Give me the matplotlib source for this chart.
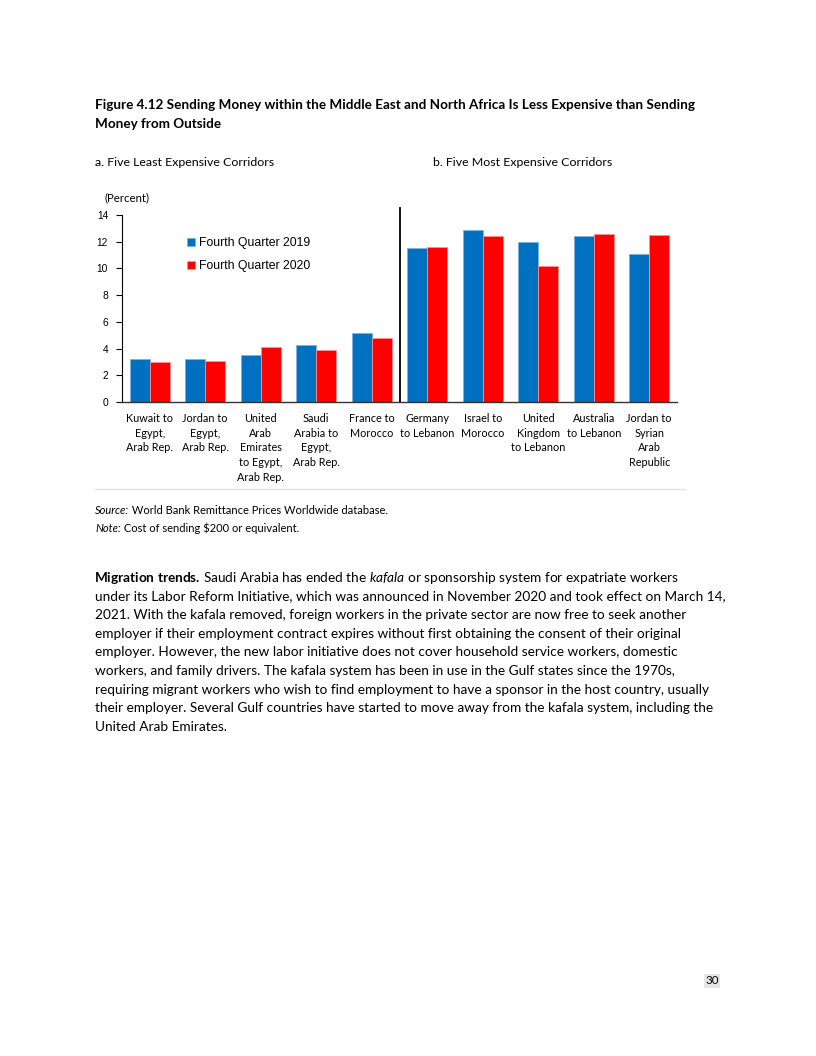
import matplotlib
matplotlib.use("Agg")
import matplotlib.pyplot as plt
import numpy as np

# data
corridors = ["Kuwait to\nEgypt,\nArab Rep.", "Jordan to\nEgypt,\nArab Rep.",
             "United\nArab\nEmirates\nto Egypt,\nArab Rep.", "Saudi\nArabia to\nEgypt,\nArab Rep.",
             "France to\nMorocco", "Germany\nto Lebanon", "Israel to\nMorocco",
             "United\nKingdom\nto Lebanon", "Australia\nto Lebanon", "Jordan to\nSyrian\nArab\nRepublic"]
q4_2019 = [3.2, 3.2, 3.5, 4.3, 5.2, 11.5, 12.9, 12.0, 12.4, 11.1]
q4_2020 = [3.0, 3.1, 4.1, 3.9, 4.8, 11.6, 12.4, 10.2, 12.6, 12.5]
yticks = [0, 2, 4, 6, 8, 10, 12, 14]

W, H = 816, 1056
BLUE = "#0070C0"
RED = "#FF0000"
BODY = "Lato"
TICKF = "Liberation Sans"

plt.rcParams["mathtext.fontset"] = "custom"
plt.rcParams["mathtext.rm"] = "Lato"
plt.rcParams["mathtext.it"] = "Lato:italic"
plt.rcParams["mathtext.bf"] = "Lato:bold"

fig = plt.figure(figsize=(W / 100, H / 100), dpi=100)

def fx(x):
    return x / W

def fy(y):
    return 1 - y / H

# title + panel labels
fig.text(fx(95), fy(105), "Figure 4.12 Sending Money within the Middle East and North Africa Is Less Expensive than Sending",
         fontsize=9.72, fontweight="bold", family=BODY, va="center")
fig.text(fx(95), fy(124), "Money from Outside", fontsize=9.72, fontweight="bold", family=BODY, va="center")
fig.text(fx(95), fy(162), "a. Five Least Expensive Corridors", fontsize=8.9, family=BODY, va="center")
fig.text(fx(433), fy(162), "b. Five Most Expensive Corridors", fontsize=8.9, family=BODY, va="center")
fig.text(fx(105), fy(198), "(Percent)", fontsize=8.2, family=BODY, va="center")

# chart
ax = fig.add_axes([fx(122), fy(402), (677 - 122) / W, (402 - 215) / H])
x = np.arange(len(corridors))
bw = 0.36
ax.bar(x - bw / 2, q4_2019, bw, color=BLUE, edgecolor="#7fb3e0", linewidth=0.6, label="Fourth Quarter 2019")
ax.bar(x + bw / 2, q4_2020, bw, color=RED, edgecolor="#ff9090", linewidth=0.6, label="Fourth Quarter 2020")
ax.axvline(4.5, ymin=0, ymax=(402 - 208) / (402 - 215), color="black", lw=1.3, clip_on=False)

ax.set_xlim(-0.5, 9.5)
ax.set_ylim(0, 14)
ax.set_yticks(yticks)
ax.set_yticklabels([str(v) for v in yticks], fontsize=7.4, family=TICKF)
ax.set_xticks(x)
ax.set_xticklabels(corridors, fontsize=7.8, family=BODY, linespacing=1.4, va="top")
ax.tick_params(axis="x", length=0, pad=8)
ax.tick_params(axis="y", length=4, width=0.8, direction="out", pad=6)
for s in ["top", "right"]:
    ax.spines[s].set_visible(False)
ax.spines["left"].set_linewidth(0.8)
ax.spines["bottom"].set_linewidth(1.0)
ax.spines["bottom"].set_color("#333333")

leg = ax.legend(loc="upper left", bbox_to_anchor=(fx(176 - 122) / ((677 - 122) / W), 0.94),
                frameon=False, prop={"family": TICKF, "size": 8.8},
                handlelength=0.65, handleheight=0.65, handletextpad=0.3, labelspacing=0.9)

# thin gray rule under the chart
fig.add_artist(plt.Line2D([fx(95), fx(685)], [fy(489), fy(489)], color="#e3e3e3", lw=1.0))

fig.canvas.draw()
renderer = fig.canvas.get_renderer()

def runs(x0, y0, parts, size):
    # put text pieces side by side on one baseline, each with its own style
    xpos = x0
    for txt, style in parts:
        t = fig.text(fx(xpos), fy(y0), txt, fontsize=size, family=BODY,
                     fontstyle=style, va="baseline")
        xpos += t.get_window_extent(renderer).width

runs(95, 514, [("Source:", "italic"), (" World Bank Remittance Prices Worldwide database.", "normal")], 8.0)
runs(95, 532, [("Note:", "italic"), (" Cost of sending $200 or equivalent.", "normal")], 8.0)

body = 9.8
base = 581.5
fig.text(fx(94.5), fy(base), r"$\mathbf{Migration\ trends.}\,$Saudi Arabia has ended the $\mathit{kafala}$ "
         "or sponsorship system for expatriate workers", fontsize=body, family=BODY, va="baseline")
lines = [
    "under its Labor Reform Initiative, which was announced in November 2020 and took effect on March 14,",
    "2021. With the kafala removed, foreign workers in the private sector are now free to seek another",
    "employer if their employment contract expires without first obtaining the consent of their original",
    "employer. However, the new labor initiative does not cover household service workers, domestic",
    "workers, and family drivers. The kafala system has been in use in the Gulf states since the 1970s,",
    "requiring migrant workers who wish to find employment to have a sponsor in the host country, usually",
    "their employer. Several Gulf countries have started to move away from the kafala system, including the",
    "United Arab Emirates.",
]
for i, ln in enumerate(lines):
    fig.text(fx(95), fy(base + 18.7 * (i + 1)), ln, fontsize=body, family=BODY, va="baseline")

# page number
fig.text(fx(712), fy(981), "30", fontsize=8.3, family=BODY, va="center", ha="center",
         bbox=dict(boxstyle="square,pad=0.15", fc="#e6e6e6", ec="none"))

fig.savefig("out.png", dpi=100)
